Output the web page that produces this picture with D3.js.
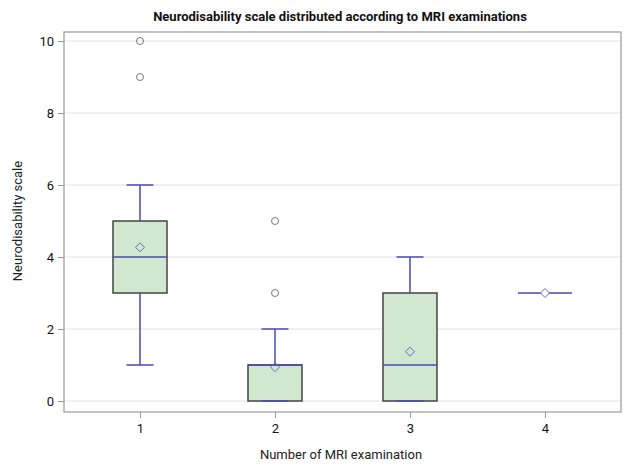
<!DOCTYPE html>
<html>
<head>
<meta charset="utf-8">
<script src="https://cdn.jsdelivr.net/npm/d3@7"></script>
<style>
  body { margin: 0; background: #fff; }
  svg { font-family: Roboto, "Open Sans", sans-serif; }
</style>
</head>
<body>
<div id="chart"></div>
<script>
// box plot stats per MRI examination count
var groups   = ["1", "2", "3", "4"];
var whiskLo  = [1, 0, 0, 3];
var q1       = [3, 0, 0, 3];
var medians  = [4, 1, 1, 3];
var q3       = [5, 1, 3, 3];
var whiskHi  = [6, 2, 4, 3];
var means    = [4.27, 0.94, 1.37, 3];
var outliers = [[9, 10], [3, 5], [], []];
var yTicks   = [0, 2, 4, 6, 8, 10];

var w = 630, h = 471;
var plotL = 64, plotR = 621, plotT = 32, plotB = 412;
var boxW = 54, capW = 27;
var blue = "#4a4ab0";

var svg = d3.select("#chart").append("svg")
    .attr("width", w)
    .attr("height", h);

var x = d3.scalePoint()
    .domain(groups)
    .range([plotL, plotR])
    .padding(0.563);

var y = d3.scaleLinear()
    .domain([0, 10])
    .range([401, 41]);

// grid
svg.append("g")
    .selectAll("line")
    .data(yTicks)
    .enter()
    .append("line")
    .attr("x1", plotL)
    .attr("x2", plotR)
    .attr("y1", function(d) { return y(d); })
    .attr("y2", function(d) { return y(d); })
    .attr("stroke", "#e3e3e3")
    .attr("stroke-width", 1);

// axes
var yAxis = d3.axisLeft(y).tickValues(yTicks).tickSize(6).tickPadding(4);
var xAxis = d3.axisBottom(x).tickSize(6).tickPadding(6);

var gy = svg.append("g")
    .attr("transform", "translate(" + plotL + ",0)")
    .call(yAxis);
var gx = svg.append("g")
    .attr("transform", "translate(0," + plotB + ")")
    .call(xAxis);
[gx, gy].forEach(function(g) {
    g.select(".domain").remove();
    g.selectAll(".tick line").attr("stroke", "#999");
    g.selectAll(".tick text")
        .attr("fill", "#111")
        .attr("font-size", "13px")
        .attr("font-family", "Roboto, sans-serif");
});

// frame
svg.append("rect")
    .attr("x", plotL)
    .attr("y", plotT)
    .attr("width", plotR - plotL)
    .attr("height", plotB - plotT)
    .attr("fill", "none")
    .attr("stroke", "#999")
    .attr("stroke-width", 1.2);

// boxes
var g = svg.append("g");
groups.forEach(function(k, i) {
    var cx = x(k);
    if (q3[i] > q1[i]) {
        g.append("rect")
            .attr("x", cx - boxW / 2)
            .attr("y", y(q3[i]))
            .attr("width", boxW)
            .attr("height", y(q1[i]) - y(q3[i]))
            .attr("fill", "#d2e7cf")
            .attr("stroke", "#444")
            .attr("stroke-width", 1.5);
    }
    // whiskers
    if (whiskHi[i] > q3[i]) {
        g.append("line")
            .attr("x1", cx).attr("x2", cx)
            .attr("y1", y(q3[i])).attr("y2", y(whiskHi[i]))
            .attr("stroke", blue).attr("stroke-width", 1.5);
        g.append("line")
            .attr("x1", cx - capW / 2).attr("x2", cx + capW / 2)
            .attr("y1", y(whiskHi[i])).attr("y2", y(whiskHi[i]))
            .attr("stroke", blue).attr("stroke-width", 1.5);
    }
    if (q3[i] > q1[i]) {
        if (whiskLo[i] < q1[i]) {
            g.append("line")
                .attr("x1", cx).attr("x2", cx)
                .attr("y1", y(q1[i])).attr("y2", y(whiskLo[i]))
                .attr("stroke", blue).attr("stroke-width", 1.5);
        }
        g.append("line")
            .attr("x1", cx - capW / 2).attr("x2", cx + capW / 2)
            .attr("y1", y(whiskLo[i])).attr("y2", y(whiskLo[i]))
            .attr("stroke", blue).attr("stroke-width", 1.5);
    }
    // median
    g.append("line")
        .attr("x1", cx - boxW / 2).attr("x2", cx + boxW / 2)
        .attr("y1", y(medians[i])).attr("y2", y(medians[i]))
        .attr("stroke", blue).attr("stroke-width", 1.5);
    // mean
    var my = y(means[i]);
    g.append("path")
        .attr("d", "M" + cx + "," + (my - 4.5) + "L" + (cx + 4.5) + "," + my +
            "L" + cx + "," + (my + 4.5) + "L" + (cx - 4.5) + "," + my + "Z")
        .attr("fill", "#fff")
        .attr("fill-opacity", i == 3 ? 1 : 0)
        .attr("stroke", "#6a6ab8")
        .attr("stroke-width", 1);
    // outliers
    outliers[i].forEach(function(o) {
        g.append("circle")
            .attr("cx", cx)
            .attr("cy", y(o))
            .attr("r", 3.5)
            .attr("fill", "none")
            .attr("stroke", "#777")
            .attr("stroke-width", 1);
    });
});

// title and labels
svg.append("text")
    .attr("x", 340)
    .attr("y", 21)
    .attr("text-anchor", "middle")
    .attr("font-size", "13px")
    .attr("font-weight", "bold")
    .attr("fill", "#111")
    .text("Neurodisability scale distributed according to MRI examinations");

svg.append("text")
    .attr("x", 341)
    .attr("y", 459)
    .attr("text-anchor", "middle")
    .attr("font-size", "13px")
    .attr("fill", "#222")
    .text("Number of MRI examination");

svg.append("text")
    .attr("transform", "translate(22,221) rotate(-90)")
    .attr("text-anchor", "middle")
    .attr("font-size", "13px")
    .attr("fill", "#222")
    .text("Neurodisability scale");
</script>
</body>
</html>
